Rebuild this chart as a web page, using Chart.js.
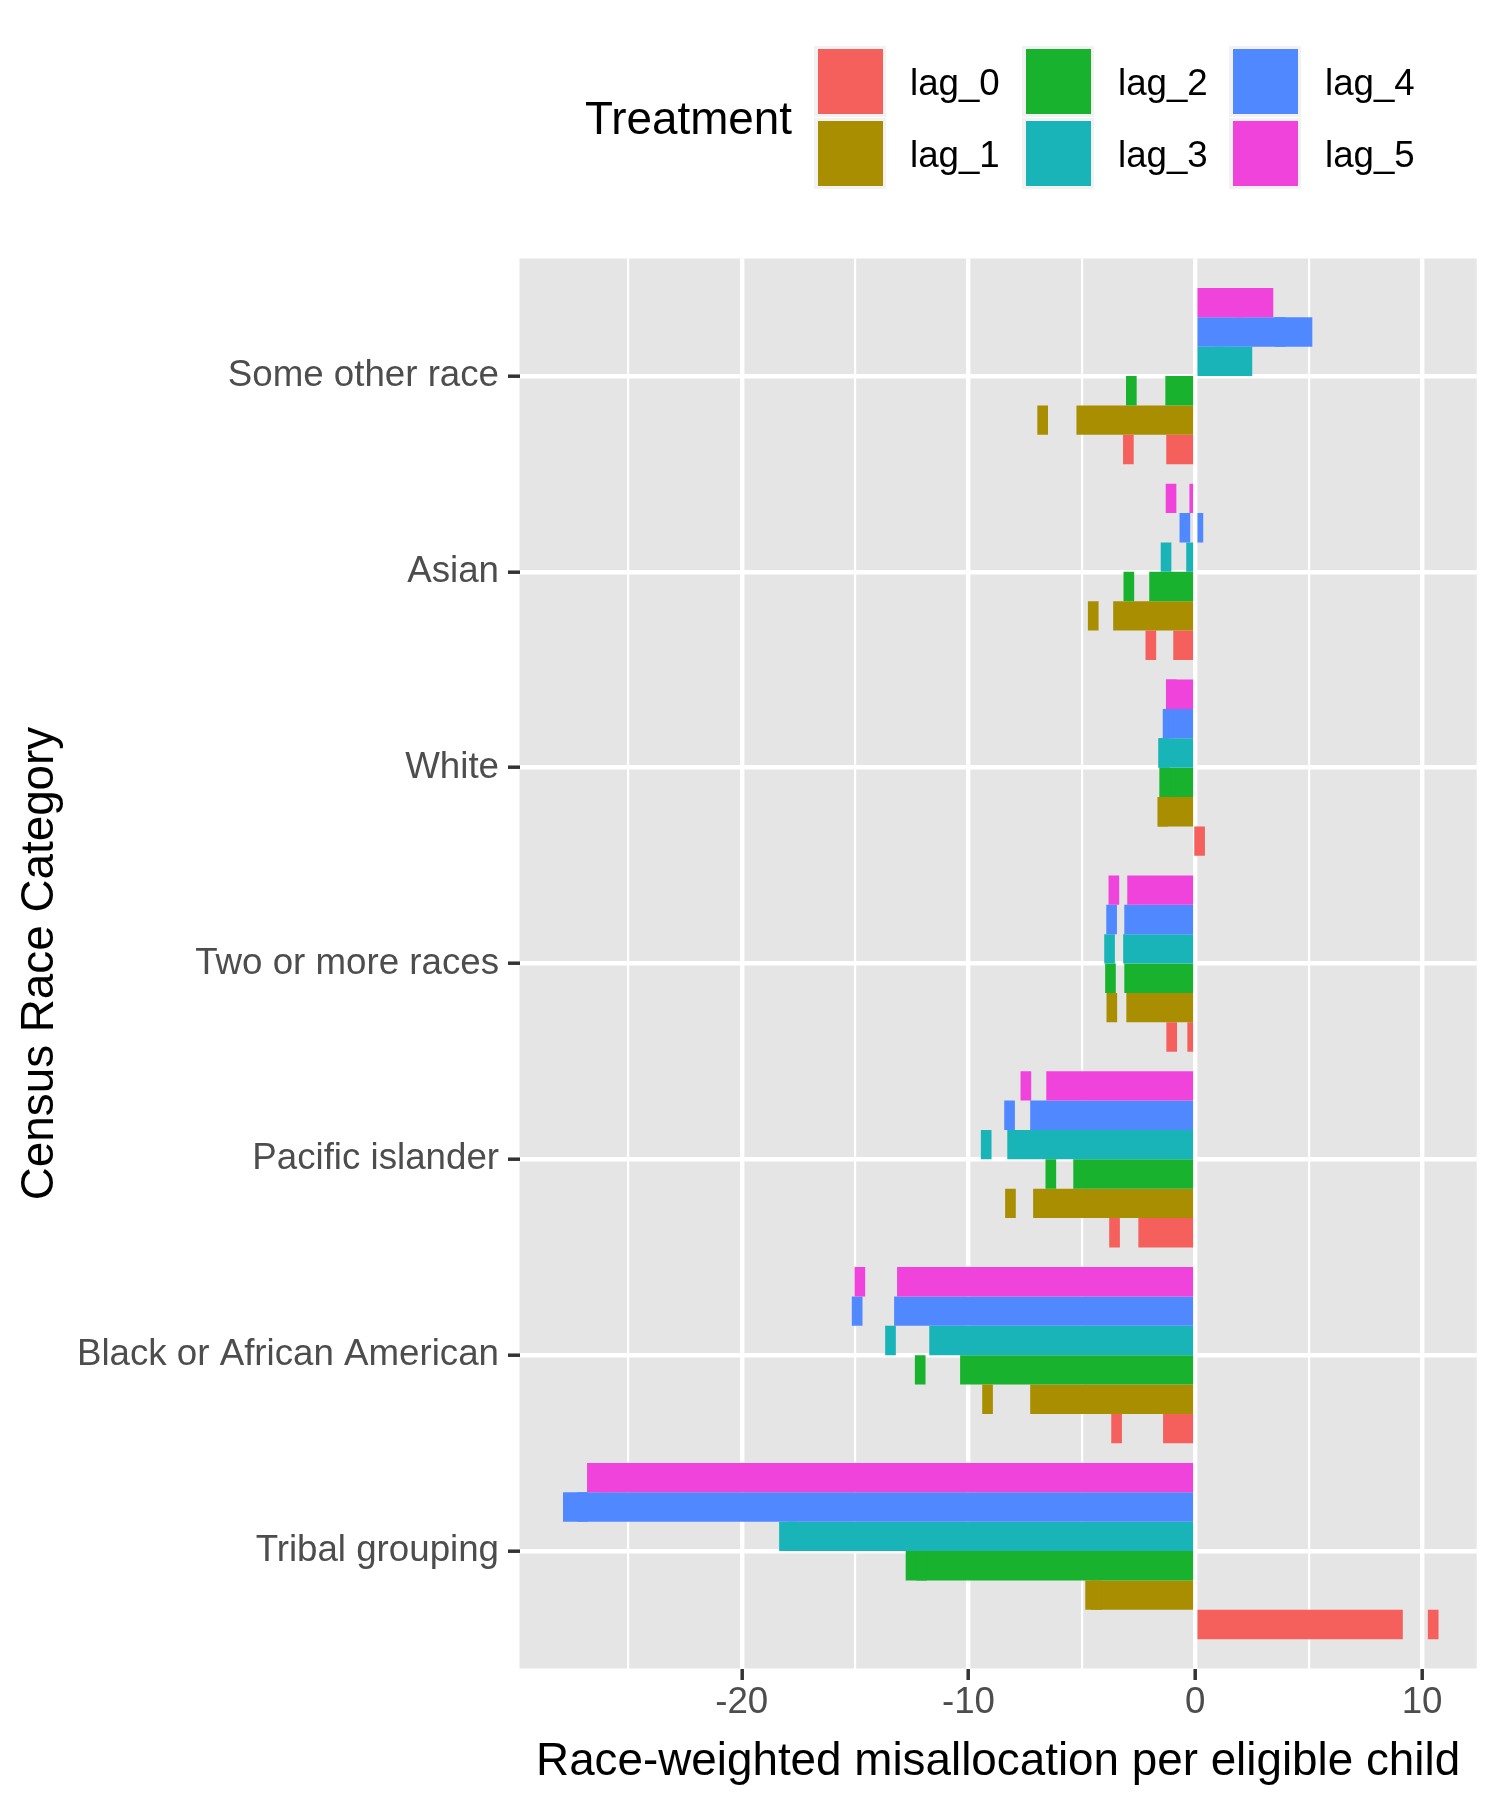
<!DOCTYPE html>
<html>
<head>
<meta charset="utf-8">
<script src="https://cdn.jsdelivr.net/npm/chart.js@4.4.1/dist/chart.umd.min.js"></script>
<style>
html,body{margin:0;padding:0;background:#ffffff;}
#wrap{position:relative;width:1500px;height:1800px;font-family:'Liberation Sans',Arial,sans-serif;}
#c{position:absolute;left:0;top:0;}
.lg-title{position:absolute;left:585px;top:119px;transform:translateY(-50%);font-size:45.8px;color:#000;line-height:1;white-space:nowrap;}
.key{position:absolute;width:72px;height:71px;background:#F2F2F2;}
.key i{position:absolute;left:3.5px;top:3px;right:3.5px;bottom:3px;}
.lab{position:absolute;font-size:36.7px;color:#000;line-height:1;transform:translateY(-50%);white-space:nowrap;}
</style>
</head>
<body>
<div id="wrap">
<canvas id="c" width="1500" height="1800"></canvas>
<div id="legend"></div>
</div>
<script>
// ---- data ----
const categories = ['Some other race', 'Asian', 'White', 'Two or more races', 'Pacific islander', 'Black or African American', 'Tribal grouping'];
const treatments = ['lag_0', 'lag_1', 'lag_2', 'lag_3', 'lag_4', 'lag_5'];

const lag0 = [-1.28, -0.97, 0.08, -0.35, -2.51, -1.42, 9.15];
const lag1 = [-5.24, -3.62, -1.65, -3.04, -7.15, -7.28, -4.85];
const lag2 = [-1.32, -2.03, -1.54, -3.13, -5.38, -10.37, -12.77];
const lag3 = [2.51, -0.40, -1.60, -3.18, -8.29, -11.73, -18.35];
const lag4 = [5.16, 0.35, -1.40, -3.13, -7.28, -13.28, -27.88];
const lag5 = [3.44, -0.26, -1.28, -3.00, -6.57, -13.15, -26.82];

// small interval markers (centre values)
const lag0Mark = [-2.95, -1.96, 0.19, -1.04, -3.56, -3.47, 10.49];
const lag1Mark = [-6.73, -4.50, -1.43, -3.68, -8.15, -9.16, -4.36];
const lag2Mark = [-2.82, -2.93, -1.35, -3.74, -6.37, -12.13, -12.07];
const lag3Mark = [1.07, -1.29, -1.40, -3.78, -9.22, -13.44, -17.75];
const lag4Mark = [3.75, -0.46, -1.20, -3.69, -8.19, -14.91, -27.01];
const lag5Mark = [1.99, -1.07, -1.06, -3.59, -7.47, -14.79, -26.01];

const xTicks = [-25, -20, -15, -10, -5, 0, 5, 10];
const xTickLabels = ['', '-20', '', '-10', '', '0', '', '10'];

// ---- styles ----
const colors = ['#F5605C', '#A88E00', '#18B22E', '#18B4B8', '#5088FF', '#F043DC'];
const FONT = "'Liberation Sans', Arial, sans-serif";
const markHalf = 0.235;

const barSets = [lag0, lag1, lag2, lag3, lag4, lag5];
const markSets = [lag0Mark, lag1Mark, lag2Mark, lag3Mark, lag4Mark, lag5Mark];

// x range like ggplot: data range + 5% each side
const allVals = [0].concat(...barSets, ...markSets);
const dMin = Math.min(...allVals), dMax = Math.max(...allVals);
const span = dMax - dMin;
const xMin = dMin - 0.05 * span, xMax = dMax + 0.05 * span;

const datasets = [];
// markers first (drawn on top), then bars; same stack id => same slot
for (let k = 5; k >= 0; k--) {
  datasets.push({
    label: treatments[k] + ' marker',
    data: markSets[k].map((c, i) => ({ x: [c - markHalf, c + markHalf], y: i })),
    backgroundColor: colors[k],
    stack: 's' + k,
    categoryPercentage: 0.9,
    barPercentage: 1.0
  });
}
for (let k = 5; k >= 0; k--) {
  datasets.push({
    label: treatments[k],
    data: barSets[k].map((v, i) => ({ x: v, y: i })),
    backgroundColor: colors[k],
    stack: 's' + k,
    categoryPercentage: 0.9,
    barPercentage: 1.0
  });
}

const panelBg = {
  id: 'panelBg',
  beforeDraw(chart) {
    const { ctx, chartArea: a } = chart;
    ctx.save();
    ctx.fillStyle = '#E5E5E5';
    ctx.fillRect(a.left, a.top, a.right - a.left, a.bottom - a.top);
    ctx.restore();
  }
};

new Chart(document.getElementById('c'), {
  type: 'bar',
  data: { datasets },
  options: {
    indexAxis: 'y',
    responsive: false,
    devicePixelRatio: 1,
    animation: false,
    layout: { padding: { top: 258.5, right: 23.3, bottom: 0, left: 0 } },
    plugins: { legend: { display: false }, tooltip: { enabled: false } },
    scales: {
      x: {
        type: 'linear',
        position: 'bottom',
        min: xMin,
        max: xMax,
        stacked: false,
        afterBuildTicks: s => { s.ticks = xTicks.map(v => ({ value: v })); },
        afterFit: s => { s.height = 131.5; s.paddingLeft = 0; s.paddingRight = 0; },
        grid: {
          color: '#FFFFFF',
          lineWidth: c => (c.tick && c.tick.value % 10 === 0) ? 4.4 : 2.2,
          drawTicks: true,
          tickLength: 11.5,
          tickWidth: 3.5,
          tickColor: c => (c.tick && c.tick.value % 10 === 0) ? '#333333' : 'rgba(0,0,0,0)'
        },
        border: { display: false },
        ticks: {
          autoSkip: false,
          maxRotation: 0,
          padding: 1,
          color: '#4D4D4D',
          font: { family: FONT, size: 36.7 },
          callback: (v, i) => xTickLabels[i]
        },
        title: {
          display: true,
          text: 'Race-weighted misallocation per eligible child',
          color: '#000000',
          font: { family: FONT, size: 45.8 },
          padding: { top: 0, bottom: 10.5 }
        }
      },
      y: {
        type: 'linear',
        min: -0.6,
        max: 6.6,
        reverse: true,
        offset: false,
        afterBuildTicks: s => { s.ticks = categories.map((c, i) => ({ value: i })); },
        afterFit: s => { s.width = 519.5; s.paddingTop = 0; s.paddingBottom = 0; },
        grid: {
          color: '#FFFFFF',
          lineWidth: 4.4,
          offset: false,
          drawTicks: true,
          tickLength: 11.5,
          tickWidth: 3.5,
          tickColor: '#333333'
        },
        border: { display: false },
        ticks: {
          autoSkip: false,
          padding: 9,
          color: '#4D4D4D',
          font: { family: FONT, size: 36.7 },
          callback: (v, i) => categories[i]
        },
        title: {
          display: true,
          text: 'Census Race Category',
          color: '#000000',
          font: { family: FONT, size: 45.8 },
          padding: { top: 12.5, bottom: 0 }
        }
      }
    }
  },
  plugins: [panelBg]
});

// ---- legend (HTML text) ----
const lg = document.getElementById('legend');
const t = document.createElement('div');
t.className = 'lg-title';
t.textContent = 'Treatment';
lg.appendChild(t);
const colX = [814, 1022, 1229];
const rowY = [46, 117.5];
treatments.forEach((name, k) => {
  const col = Math.floor(k / 2), row = k % 2;
  const key = document.createElement('div');
  key.className = 'key';
  key.style.left = colX[col] + 'px';
  key.style.top = rowY[row] + 'px';
  const fill = document.createElement('i');
  fill.style.background = colors[k];
  key.appendChild(fill);
  lg.appendChild(key);
  const lab = document.createElement('div');
  lab.className = 'lab';
  lab.style.left = (colX[col] + 96) + 'px';
  lab.style.top = (rowY[row] + 37) + 'px';
  lab.textContent = name;
  lg.appendChild(lab);
});
</script>
</body>
</html>
